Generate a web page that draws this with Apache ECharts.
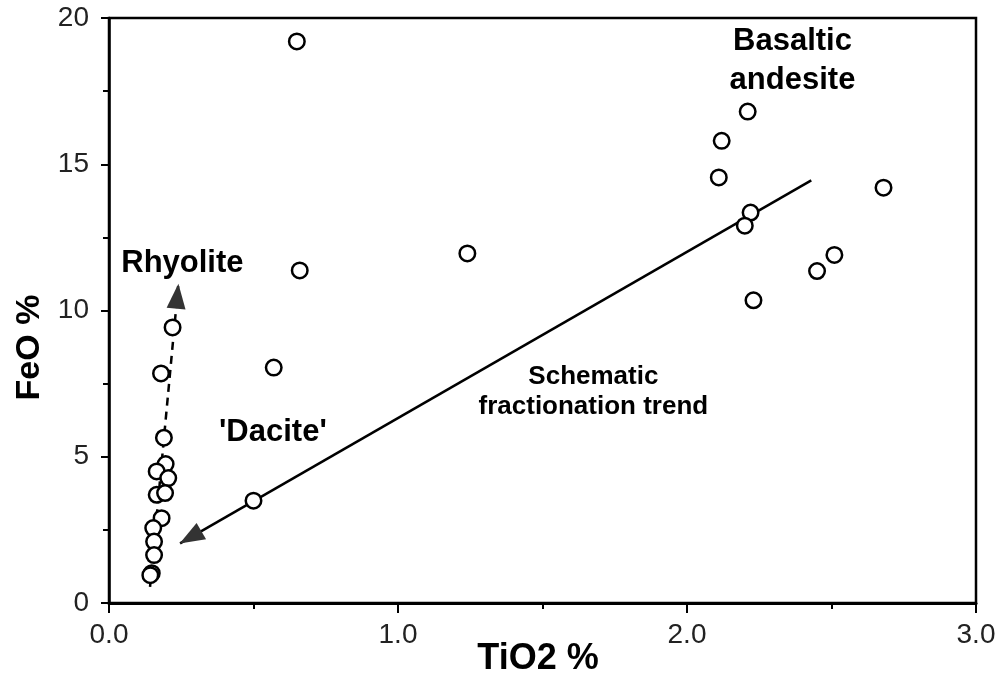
<!DOCTYPE html>
<html>
<head>
<meta charset="utf-8">
<script src="https://cdn.jsdelivr.net/npm/echarts@6/dist/echarts.min.js"></script>
<style>
  html, body { margin: 0; padding: 0; background: #fff; }
  #main { width: 1003px; height: 679px; }
</style>
</head>
<body>
<div id="main"></div>
<script>
// samples
const tio2 = [0.65, 2.21, 2.12, 2.11, 2.68, 2.22, 2.20, 2.51, 2.45, 2.23, 1.24, 0.66, 0.57, 0.50,
    0.22, 0.18, 0.19, 0.196, 0.165, 0.205, 0.165, 0.194, 0.182, 0.153, 0.156, 0.156, 0.148, 0.143]
const feo = [19.2, 16.8, 15.8, 14.55, 14.2, 13.35, 12.9, 11.9, 11.35, 10.35, 11.95, 11.37, 8.05, 3.5,
    9.42, 7.85, 5.65, 4.75, 4.5, 4.27, 3.7, 3.76, 2.9, 2.56, 2.1, 1.64, 1.02, 0.95]

// arrows: [from, to]
const trendArrow = [[2.43, 14.45], [0.246, 2.04]]
const rhyoliteArrow = [[0.142, 0.55], [0.24, 10.9]]

// annotations
const noteText = ['Basaltic\nandesite', 'Rhyolite', "'Dacite'", 'Schematic\nfractionation trend']
const noteX = [2.365, 0.254, 0.567, 1.676]
const noteY = [18.53, 11.61, 5.82, 7.23]
const noteSize = [31, 31, 31, 26]
const noteLineHeight = [39, 39, 39, 30]

const xTicks = [0, 1, 2, 3]
const yTicks = [0, 5, 10, 15, 20]

const font = 'Liberation Sans, Arial, Helvetica, sans-serif'
const chart = echarts.init(document.getElementById('main'))

// plain line first, then the same segment again carrying the arrow head
const arrowLine = (pair, type) => ([
    [
        { coord: pair[0], symbol: 'none', lineStyle: { type, color: '#000', width: 2.5 } },
        { coord: pair[1], symbol: 'none' }
    ],
    [
        { coord: pair[0], symbol: 'none', lineStyle: { type, color: '#333', width: 0.01 } },
        { coord: pair[1], symbol: 'triangle', symbolSize: [19, 25], symbolOffset: [0, 12] }
    ]
])

const option = {
    backgroundColor: '#fff',
    animation: false,
    grid: {
        left: 109, right: 27, top: 18, bottom: 76,
        outerBoundsMode: 'none',
        containLabel: false,
        show: true, borderColor: '#000', borderWidth: 2.5, backgroundColor: 'transparent'
    },
    xAxis: {
        type: 'value',
        min: xTicks[0], max: xTicks[xTicks.length - 1], interval: 1,
        name: 'TiO2 %', nameLocation: 'middle', nameGap: 38, nameMoveOverlap: false,
        nameTextStyle: { fontFamily: font, fontSize: 36, fontWeight: 'bold', color: '#000', padding: [0, 9, 0, 0] },
        axisLine: { lineStyle: { color: '#000', width: 3 } },
        axisTick: { length: 10, lineStyle: { color: '#000', width: 2 } },
        minorTick: { show: true, splitNumber: 2, length: 6, lineStyle: { color: '#000', width: 2 } },
        axisLabel: { fontFamily: font, fontSize: 28, color: '#222', margin: 18, formatter: v => v.toFixed(1) },
        splitLine: { show: false }
    },
    yAxis: {
        type: 'value',
        min: yTicks[0], max: yTicks[yTicks.length - 1], interval: 5,
        name: 'FeO %', nameLocation: 'middle', nameGap: 62, nameMoveOverlap: false,
        nameTextStyle: { fontFamily: font, fontSize: 34, fontWeight: 'bold', color: '#000', padding: [0, 74, 0, 0] },
        axisLine: { lineStyle: { color: '#000', width: 2.5 } },
        axisTick: { length: 8, lineStyle: { color: '#000', width: 2 } },
        minorTick: { show: true, splitNumber: 2, length: 6, lineStyle: { color: '#000', width: 2 } },
        axisLabel: { fontFamily: font, fontSize: 28, color: '#222', margin: 20 },
        splitLine: { show: false }
    },
    series: [
        {
            type: 'scatter',
            data: tio2.map((x, i) => [x, feo[i]]),
            symbol: 'circle',
            symbolSize: 15.5,
            itemStyle: { color: '#fff', borderColor: '#000', borderWidth: 2.5, opacity: 1 },
            z: 5,
            markLine: {
                silent: true,
                animation: false,
                label: { show: false },
                emphasis: { disabled: true },
                data: arrowLine(trendArrow, 'solid').concat(arrowLine(rhyoliteArrow, [8, 6]))
            }
        },
        {
            type: 'scatter',
            data: noteText.map((t, i) => ({
                name: t,
                value: [noteX[i], noteY[i]],
                label: {
                    show: true,
                    position: 'inside',
                    formatter: p => p.name,
                    fontFamily: font,
                    fontWeight: 'bold',
                    color: '#000',
                    fontSize: noteSize[i],
                    lineHeight: noteLineHeight[i]
                }
            })),
            symbolSize: 0,
            itemStyle: { opacity: 1 },
            silent: true,
            z: 6,
            emphasis: { disabled: true }
        }
    ]
}

chart.setOption(option)
</script>
</body>
</html>
